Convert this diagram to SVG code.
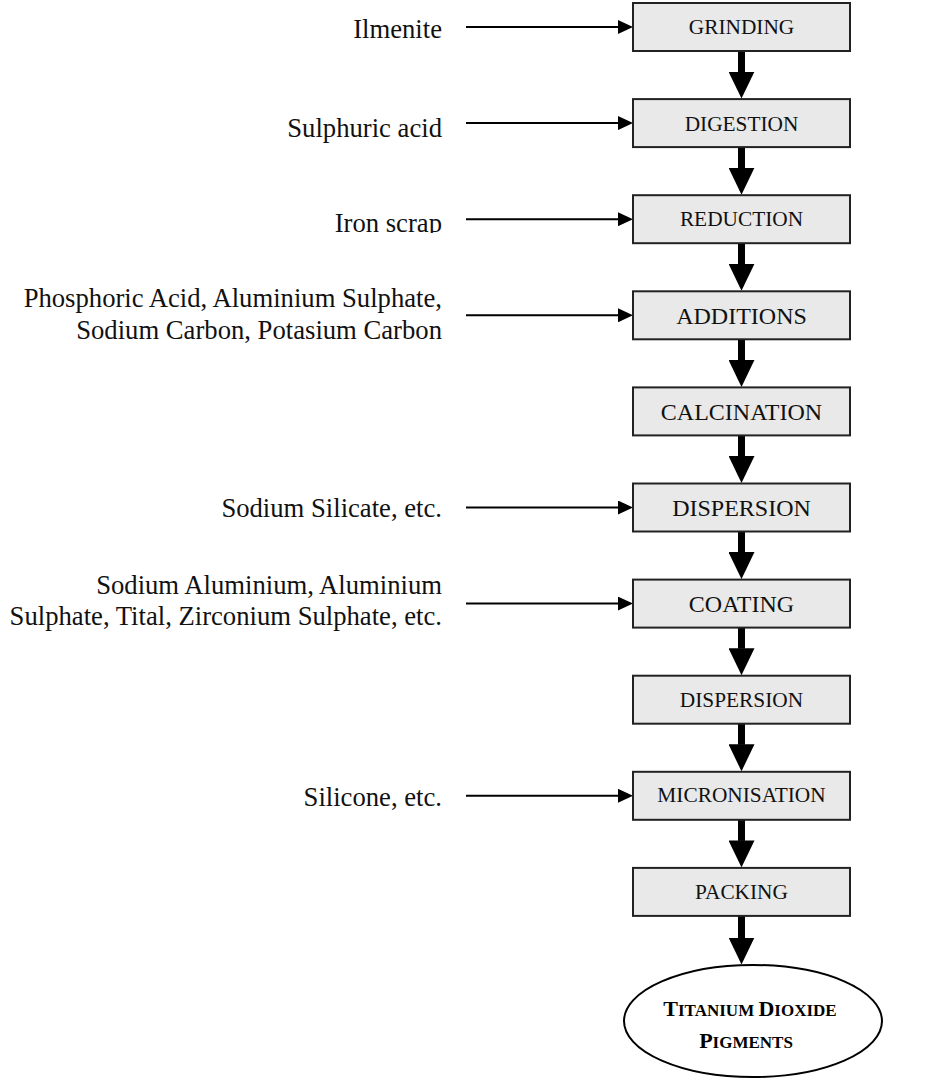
<svg xmlns="http://www.w3.org/2000/svg" width="932" height="1083" viewBox="0 0 932 1083">
<style>
.box{fill:#e9e9e9;stroke:#222;stroke-width:2}
.bl{font-family:"Liberation Serif","Times New Roman",serif;fill:#111;text-anchor:middle}
.s{font-size:21.33px}
.m{font-size:24px}
.lab{font-family:"Liberation Serif","Times New Roman",serif;font-size:26.67px;fill:#111;text-anchor:end}
.thin{stroke:#000;stroke-width:2;fill:none;marker-end:url(#th)}
.thick{stroke:#000;stroke-width:7;fill:none;marker-end:url(#bh)}
.tt{font-family:"Liberation Serif","Times New Roman",serif;font-weight:bold;fill:#000;text-anchor:middle}
</style>
<defs>
<marker id="th" viewBox="0 0 15 14" refX="0" refY="7" markerWidth="15" markerHeight="14" markerUnits="userSpaceOnUse" orient="auto"><path d="M0,0 L15,7 L0,14 Z" fill="#000"/></marker>
<marker id="bh" viewBox="0 0 27 26" refX="0.5" refY="13" markerWidth="27" markerHeight="26" markerUnits="userSpaceOnUse" orient="auto"><path d="M0,0 L27,13 L0,26 Z" fill="#000"/></marker>
<clipPath id="clipIron"><rect x="300" y="190" width="160" height="43"/></clipPath>
</defs>
<rect width="932" height="1083" fill="#fff"/>
<g id="connectors">
<line class="thin" x1="466" y1="27" x2="618" y2="27"/>
<line class="thin" x1="466" y1="123.1" x2="618" y2="123.1"/>
<line class="thin" x1="466" y1="219.2" x2="618" y2="219.2"/>
<line class="thin" x1="466" y1="315.3" x2="618" y2="315.3"/>
<line class="thin" x1="466" y1="507.5" x2="618" y2="507.5"/>
<line class="thin" x1="466" y1="603.6" x2="618" y2="603.6"/>
<line class="thin" x1="466" y1="795.8" x2="618" y2="795.8"/>
<line class="thick" x1="741.5" y1="51" x2="741.5" y2="72.1"/>
<line class="thick" x1="741.5" y1="147.1" x2="741.5" y2="168.2"/>
<line class="thick" x1="741.5" y1="243.2" x2="741.5" y2="264.3"/>
<line class="thick" x1="741.5" y1="339.3" x2="741.5" y2="360.4"/>
<line class="thick" x1="741.5" y1="435.4" x2="741.5" y2="456.5"/>
<line class="thick" x1="741.5" y1="531.5" x2="741.5" y2="552.6"/>
<line class="thick" x1="741.5" y1="627.6" x2="741.5" y2="648.7"/>
<line class="thick" x1="741.5" y1="723.7" x2="741.5" y2="744.8"/>
<line class="thick" x1="741.5" y1="819.8" x2="741.5" y2="840.9"/>
<line class="thick" x1="741.5" y1="915.9" x2="741.5" y2="938"/>
</g>
<g id="inputs">
<text class="lab" x="442" y="38">Ilmenite</text>
<text class="lab" x="442" y="137">Sulphuric acid</text>
<text class="lab" x="442" y="232" clip-path="url(#clipIron)">Iron scrap</text>
<text class="lab" x="442" y="307">Phosphoric Acid, Aluminium Sulphate,</text>
<text class="lab" x="442" y="339">Sodium Carbon, Potasium Carbon</text>
<text class="lab" x="442" y="517">Sodium Silicate, etc.</text>
<text class="lab" x="442" y="594">Sodium Aluminium, Aluminium</text>
<text class="lab" x="442" y="625">Sulphate, Tital, Zirconium Sulphate, etc.</text>
<text class="lab" x="442" y="806">Silicone, etc.</text>
</g>
<g id="grinding"><rect class="box" x="633" y="3" width="217" height="48"/><text class="bl s" x="741.5" y="34.3">GRINDING</text></g>
<g id="digestion"><rect class="box" x="633" y="99.1" width="217" height="48"/><text class="bl s" x="741.5" y="130.5">DIGESTION</text></g>
<g id="reduction"><rect class="box" x="633" y="195.2" width="217" height="48"/><text class="bl s" x="741.5" y="226.3">REDUCTION</text></g>
<g id="additions"><rect class="box" x="633" y="291.3" width="217" height="48"/><text class="bl m" x="741.5" y="323.5">ADDITIONS</text></g>
<g id="calcination"><rect class="box" x="633" y="387.4" width="217" height="48"/><text class="bl m" x="741.5" y="420.3">CALCINATION</text></g>
<g id="dispersion1"><rect class="box" x="633" y="483.5" width="217" height="48"/><text class="bl m" x="741.5" y="516">DISPERSION</text></g>
<g id="coating"><rect class="box" x="633" y="579.6" width="217" height="48"/><text class="bl m" x="741.5" y="612.2">COATING</text></g>
<g id="dispersion2"><rect class="box" x="633" y="675.7" width="217" height="48"/><text class="bl s" x="741.5" y="706.8">DISPERSION</text></g>
<g id="micronisation"><rect class="box" x="633" y="771.8" width="217" height="48"/><text class="bl s" x="741.5" y="802">MICRONISATION</text></g>
<g id="packing"><rect class="box" x="633" y="867.9" width="217" height="48"/><text class="bl s" x="741.5" y="899">PACKING</text></g>
<g id="product">
<ellipse cx="753" cy="1021" rx="129" ry="56" fill="#fff" stroke="#000" stroke-width="2"/>
<text class="tt" x="750" y="1016"><tspan font-size="22">T</tspan><tspan font-size="17">ITANIUM </tspan><tspan font-size="22">D</tspan><tspan font-size="17">IOXIDE</tspan></text>
<text class="tt" x="746" y="1048"><tspan font-size="22">P</tspan><tspan font-size="17">IGMENTS</tspan></text>
</g>
</svg>
